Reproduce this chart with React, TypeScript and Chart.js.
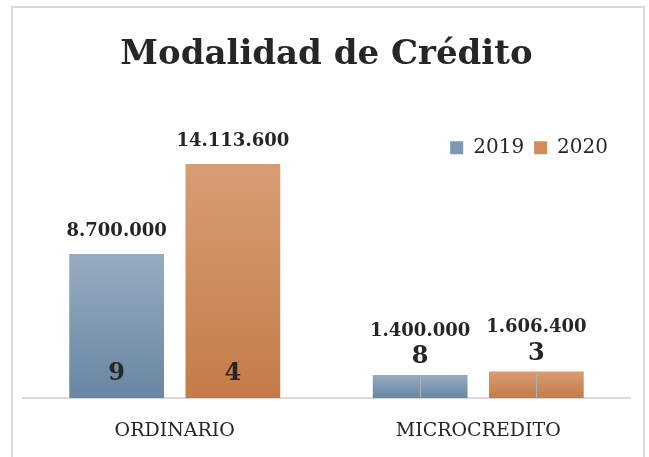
import React, { useEffect, useRef } from "react";
import { Chart, registerables } from "chart.js";

Chart.register(...registerables);

const categories = ["ORDINARIO", "MICROCREDITO"];
const seriesNames = ["2019", "2020"];
const values2019 = [8700000, 1400000];
const values2020 = [14113600, 1606400];
const counts2019 = [9, 8];
const counts2020 = [4, 3];
const yMax = 16000000;

const FONT = "'DejaVu Serif', serif";
const TEXT = "#262626";

const gradStops = [
  ["#97acc2", "#6886a2"],
  ["#d79d75", "#c47b47"],
];
const solid = ["#7f98b1", "#cf8c5e"];

function fmt(n: number): string {
  const s = Math.round(n).toString();
  return s.replace(/\B(?=(\d{3})+(?!\d))/g, ".");
}

function makeBg(i: number) {
  return (ctx: any) => {
    const chart = ctx.chart;
    const y = chart.scales && chart.scales.y;
    if (!y || ctx.type !== "data" || !chart.chartArea) return solid[i];
    const top = y.getPixelForValue(ctx.raw);
    const bot = y.getPixelForValue(0);
    if (!isFinite(top) || !isFinite(bot) || bot - top < 1) return solid[i];
    const g = chart.ctx.createLinearGradient(0, top, 0, bot);
    g.addColorStop(0, gradStops[i][0]);
    g.addColorStop(1, gradStops[i][1]);
    return g;
  };
}

const labelPlugin = {
  id: "barLabels",
  afterDatasetsDraw(chart: any) {
    const ctx = chart.ctx;
    const counts = [counts2019, counts2020];
    chart.data.datasets.forEach((ds: any, i: number) => {
      const meta = chart.getDatasetMeta(i);
      meta.data.forEach((el: any, j: number) => {
        const x = el.x;
        const top = el.y;
        const base = el.base;
        const h = base - top;
        ctx.save();
        ctx.textAlign = "center";
        ctx.textBaseline = "middle";
        ctx.fillStyle = TEXT;
        let countY: number;
        let valueY: number;
        if (h > 60) {
          countY = base - 24;
          valueY = top - 23;
        } else {
          ctx.strokeStyle = "#a9b1b9";
          ctx.lineWidth = 1;
          ctx.beginPath();
          ctx.moveTo(Math.round(x) + 0.5, top);
          ctx.lineTo(Math.round(x) + 0.5, base);
          ctx.stroke();
          countY = top - 18;
          valueY = top - 44;
        }
        ctx.font = `bold 24px ${FONT}`;
        ctx.fillText(String(counts[i][j]), x, countY);
        ctx.font = `bold 18px ${FONT}`;
        ctx.fillText(fmt(ds.data[j]), x, valueY);
        ctx.restore();
      });
    });
  },
};

const legendShift = {
  id: "legendShift",
  afterLayout(chart: any) {
    const lg = chart.legend;
    if (lg) {
      lg.right -= 12;
      lg.left -= 12;
      lg.top += 35;
      lg.bottom += 35;
    }
  },
};

export default function App() {
  const ref = useRef<HTMLCanvasElement>(null);
  useEffect(() => {
    if (!ref.current) return;
    const chart = new Chart(ref.current, {
      type: "bar",
      data: {
        labels: categories,
        datasets: [
          {
            label: seriesNames[0],
            data: values2019,
            backgroundColor: makeBg(0),
            borderWidth: 0,
            barPercentage: 0.815,
            categoryPercentage: 0.766,
          },
          {
            label: seriesNames[1],
            data: values2020,
            backgroundColor: makeBg(1),
            borderWidth: 0,
            barPercentage: 0.815,
            categoryPercentage: 0.766,
          },
        ],
      },
      options: {
        responsive: false,
        animation: false,
        devicePixelRatio: 1,
        layout: { padding: { left: 23, right: 19, top: 0, bottom: -6 } },
        scales: {
          x: {
            grid: { display: false, drawTicks: false },
            border: { display: true, color: "#d9d9d9", width: 2 },
            ticks: {
              color: TEXT,
              font: { family: FONT, size: 19 },
              padding: 21,
            },
          },
          y: {
            display: false,
            min: 0,
            max: yMax,
          },
        },
        plugins: {
          title: {
            display: true,
            text: "Modalidad de Crédito",
            color: TEXT,
            font: { family: FONT, size: 34, weight: "bold" },
            padding: { top: 35, bottom: 17 },
          },
          legend: {
            display: true,
            position: "top",
            align: "end",
            labels: {
              boxWidth: 13,
              boxHeight: 13,
              color: TEXT,
              font: { family: FONT, size: 20 },
              padding: 10,
              generateLabels: () =>
                seriesNames.map((n, i) => ({
                  text: n,
                  fillStyle: solid[i],
                  strokeStyle: solid[i],
                  lineWidth: 0,
                  hidden: false,
                  datasetIndex: i,
                  fontColor: TEXT,
                })),
            },
          },
          tooltip: { enabled: false },
        },
      },
      plugins: [labelPlugin, legendShift],
    } as any);
    return () => chart.destroy();
  }, []);

  return (
    <div>
      <div
        style={{
          position: "absolute",
          left: 11,
          top: 6,
          width: 634,
          height: 470,
          border: "2px solid #d9d9d9",
          boxSizing: "border-box",
          background: "#fff",
        }}
      />
      <canvas
        ref={ref}
        width={649}
        height={457}
        style={{ position: "absolute", left: 0, top: 0, width: 649, height: 457 }}
      />
    </div>
  );
}
